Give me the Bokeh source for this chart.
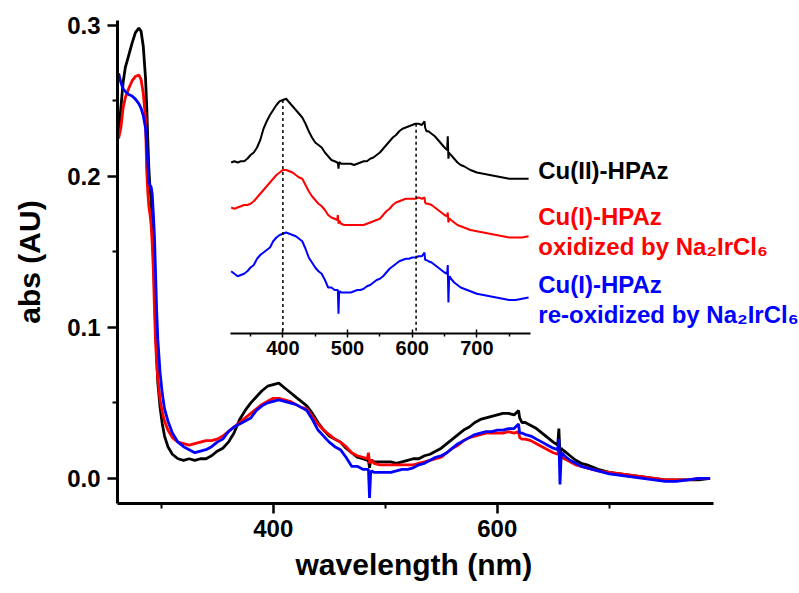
import numpy as np
from bokeh.plotting import figure
from bokeh.models import Range1d, LinearAxis, FixedTicker, PrintfTickFormatter, Label, Title
from bokeh.embed import file_html
from bokeh.resources import INLINE

# ---------------- data ----------------
wavelength = [
    262, 264, 266, 268, 271, 274, 277, 280, 282, 284,
    286, 287, 288, 289, 290, 291, 292, 293, 294, 295,
    296, 297, 299, 301, 303, 306, 310, 315, 320, 325,
    330, 335, 340, 345, 350, 355, 360, 365, 370, 375,
    380, 385, 390, 395, 400, 405, 410, 415, 420, 425,
    430, 435, 440, 445, 450, 455, 460, 465, 470, 475,
    480, 484, 485, 486, 487, 488, 490, 495, 500, 505,
    510, 515, 520, 525, 530, 535, 540, 545, 550, 555,
    560, 565, 570, 575, 580, 585, 590, 595, 600, 605,
    610, 615, 619, 620, 622, 625, 630, 635, 640, 645,
    650, 654, 655, 656, 657, 658, 660, 665, 670, 675,
    680, 690, 700, 710, 720, 730, 740, 750, 760, 770,
    780, 790,
]

abs_cu2_hpaz = [
    0.230, 0.245, 0.262, 0.272, 0.280, 0.288, 0.295, 0.298, 0.296, 0.286,
    0.265, 0.248, 0.225, 0.205, 0.192, 0.185, 0.170, 0.150, 0.125, 0.100,
    0.080, 0.063, 0.047, 0.036, 0.028, 0.021, 0.016, 0.013, 0.012, 0.013,
    0.012, 0.013, 0.013, 0.015, 0.018, 0.020, 0.024, 0.030, 0.039, 0.045,
    0.050, 0.054, 0.058, 0.061, 0.062, 0.063, 0.060, 0.057, 0.054, 0.051,
    0.048, 0.043, 0.037, 0.032, 0.028, 0.026, 0.024, 0.020, 0.017, 0.014,
    0.013, 0.012, 0.012, 0.007, 0.012, 0.012, 0.011, 0.011, 0.011, 0.011,
    0.010, 0.011, 0.012, 0.013, 0.013, 0.015, 0.016, 0.018, 0.020, 0.023,
    0.026, 0.029, 0.032, 0.034, 0.037, 0.039, 0.040, 0.041, 0.042, 0.043,
    0.043, 0.042, 0.045, 0.040, 0.037, 0.037, 0.035, 0.033, 0.030, 0.027,
    0.024, 0.022, 0.033, 0.015, 0.020, 0.019, 0.018, 0.015, 0.012, 0.010,
    0.009, 0.006, 0.004, 0.003, 0.002, 0.001, 0.000, -0.001, -0.001, -0.001,
    -0.001, 0.000,
]

abs_oxidized = [
    0.225, 0.232, 0.245, 0.252, 0.258, 0.263, 0.266, 0.267, 0.264, 0.255,
    0.238, 0.205, 0.190, 0.180, 0.175, 0.168, 0.155, 0.138, 0.112, 0.090,
    0.076, 0.066, 0.052, 0.044, 0.038, 0.032, 0.027, 0.024, 0.023, 0.022,
    0.023, 0.024, 0.025, 0.025, 0.026, 0.028, 0.031, 0.034, 0.037, 0.040,
    0.043, 0.046, 0.049, 0.051, 0.053, 0.053, 0.052, 0.051, 0.049, 0.047,
    0.046, 0.041, 0.036, 0.032, 0.029, 0.026, 0.024, 0.021, 0.017, 0.015,
    0.014, 0.013, 0.017, 0.010, 0.012, 0.012, 0.010, 0.009, 0.009, 0.009,
    0.009, 0.009, 0.009, 0.009, 0.010, 0.011, 0.012, 0.013, 0.014, 0.017,
    0.020, 0.022, 0.025, 0.027, 0.028, 0.029, 0.030, 0.030, 0.030, 0.030,
    0.031, 0.030, 0.031, 0.027, 0.026, 0.026, 0.025, 0.023, 0.021, 0.019,
    0.017, 0.016, 0.019, 0.011, 0.014, 0.014, 0.013, 0.011, 0.009, 0.008,
    0.007, 0.005, 0.004, 0.003, 0.002, 0.001, 0.000, -0.001, -0.001, -0.001,
    0.000, 0.000,
]

abs_reoxidized = [
    0.268, 0.262, 0.258, 0.256, 0.254, 0.253, 0.251, 0.248, 0.245, 0.240,
    0.232, 0.222, 0.210, 0.196, 0.194, 0.193, 0.188, 0.175, 0.160, 0.135,
    0.110, 0.092, 0.070, 0.056, 0.046, 0.038, 0.030, 0.024, 0.021, 0.019,
    0.017, 0.018, 0.019, 0.021, 0.024, 0.026, 0.031, 0.034, 0.036, 0.038,
    0.040, 0.045, 0.048, 0.050, 0.051, 0.052, 0.051, 0.050, 0.049, 0.047,
    0.045, 0.039, 0.032, 0.028, 0.024, 0.021, 0.019, 0.014, 0.008, 0.008,
    0.006, 0.006, 0.006, -0.013, 0.004, 0.005, 0.004, 0.004, 0.004, 0.004,
    0.005, 0.006, 0.006, 0.007, 0.009, 0.010, 0.012, 0.014, 0.015, 0.017,
    0.020, 0.023, 0.025, 0.027, 0.029, 0.030, 0.031, 0.031, 0.032, 0.032,
    0.033, 0.033, 0.036, 0.030, 0.030, 0.029, 0.028, 0.026, 0.024, 0.022,
    0.020, 0.019, 0.026, -0.004, 0.014, 0.017, 0.015, 0.012, 0.010, 0.008,
    0.007, 0.005, 0.003, 0.002, 0.001, 0.000, -0.001, -0.002, -0.002, -0.001,
    0.000, 0.000,
]

series = [abs_cu2_hpaz, abs_oxidized, abs_reoxidized]
colors = ["#000000", "#ff0000", "#0000ff"]
inset_offsets = [0.096, 0.049, 0.0]      # vertical stacking in the inset
marker_nm = [400, 606]                   # dashed guide lines in the inset

main_x_bounds = (261, 793)
main_x_ticks = [400, 600]
main_x_minor = [300, 500, 700]
main_y_ticks = [0.0, 0.1, 0.2, 0.3]
main_y_minor = [0.05, 0.15, 0.25]
inset_x_bounds = (319, 783)
inset_x_ticks = [400, 500, 600, 700]
inset_x_minor = [350, 450, 550, 650, 750]

x_title = "wavelength (nm)"
y_title = "abs (AU)"
label_lines = [
    ("Cu(II)-HPAz", "#000000", 0.1016),
    ("Cu(I)-HPAz", "#ff0000", 0.0648),
    ("oxidized by Na\u2082IrCl\u2086", "#ff0000", 0.0408),
    ("Cu(I)-HPAz", "#0000ff", 0.0104),
    ("re-oxidized by Na\u2082IrCl\u2086", "#0000ff", -0.0136),
]

FONT = "Liberation Sans, Arial, DejaVu Sans, sans-serif"

# ---------------- figure ----------------
# frame spans to the right window edge so the inset labels are not clipped;
# the bottom axis itself is bounded to the data span.
p = figure(width=799, height=593,
           x_range=Range1d(261, 869.8), y_range=Range1d(-0.0166, 0.303),
           output_backend="svg", toolbar_location=None,
           min_border_left=117, min_border_right=0,
           min_border_top=20, min_border_bottom=90,
           y_axis_label=y_title)
p.outline_line_color = None
p.xgrid.visible = False
p.ygrid.visible = False
p.background_fill_color = "white"
p.border_fill_color = "white"

wl = np.array(wavelength, dtype=float)
for ys, c in zip(series, colors):
    p.line(wl, ys, line_color=c, line_width=2.8)

xa = p.xaxis[0]
ya = p.yaxis[0]
xa.bounds = main_x_bounds
xa.ticker = FixedTicker(ticks=main_x_ticks, minor_ticks=main_x_minor)
ya.ticker = FixedTicker(ticks=main_y_ticks, minor_ticks=main_y_minor)
ya.formatter = PrintfTickFormatter(format="%.1f")
for ax in (xa, ya):
    ax.axis_line_width = 3
    ax.major_tick_line_width = 2.5
    ax.minor_tick_line_width = 2
    ax.major_tick_out = 10
    ax.major_tick_in = 0
    ax.minor_tick_out = 5
    ax.minor_tick_in = 0
    ax.major_label_text_font = FONT
    ax.major_label_text_font_style = "bold"
    ax.major_label_text_font_size = "24px"
    ax.major_label_text_color = "black"
    ax.axis_label_text_font = FONT
    ax.axis_label_text_font_style = "bold"
    ax.axis_label_text_font_size = "30px"
    ax.axis_label_text_color = "black"
xa.major_label_standoff = 6
ya.major_label_standoff = 7
ya.axis_label_standoff = 18

# x-axis title, placed under the bounded axis (centre of the data span)
xt = Title(text=x_title, align="left", offset=178, standoff=16,
           vertical_align="top", text_line_height=1.0,
           text_font=FONT, text_font_style="bold", text_font_size="30px",
           text_color="black")
p.add_layout(xt, "below")

# ---------------- inset (own ranges inside the same frame) ----------------
inset_axis_y = -0.029
p.extra_x_ranges = {"inset": Range1d(144.2, 1199.0)}
p.extra_y_ranges = {"inset": Range1d(-0.1648, 0.2216)}

mask = (wl >= 320) & (wl <= 783)
for ys, c, off in zip(series, colors, inset_offsets):
    p.line(wl[mask], np.array(ys)[mask] + off, line_color=c, line_width=2,
           x_range_name="inset", y_range_name="inset")

tops = [float(np.interp(m, wl, abs_cu2_hpaz)) + inset_offsets[0] for m in marker_nm]
p.segment(x0=marker_nm, y0=tops, x1=marker_nm, y1=[inset_axis_y] * len(marker_nm),
          line_color="black", line_width=1.5, line_dash="3 3",
          x_range_name="inset", y_range_name="inset")

ia = LinearAxis(x_range_name="inset", y_range_name="inset",
                fixed_location=inset_axis_y, bounds=inset_x_bounds,
                ticker=FixedTicker(ticks=inset_x_ticks, minor_ticks=inset_x_minor))
ia.axis_line_width = 2
ia.major_tick_line_width = 1.5
ia.minor_tick_line_width = 1.5
ia.major_tick_out = 4
ia.major_tick_in = 4
ia.minor_tick_out = 3
ia.minor_tick_in = 0
ia.major_label_standoff = 3
ia.major_label_text_font = FONT
ia.major_label_text_font_style = "bold"
ia.major_label_text_font_size = "20px"
ia.major_label_text_color = "black"
p.add_layout(ia, "below")

for text, c, ypos in label_lines:
    p.add_layout(Label(x=795, y=ypos, x_range_name="inset", y_range_name="inset",
                       text=text, text_color=c, text_font=FONT,
                       text_font_style="bold", text_font_size="24px",
                       text_baseline="middle", text_align="left"))

open("out.html", "w").write(file_html(p, INLINE))
